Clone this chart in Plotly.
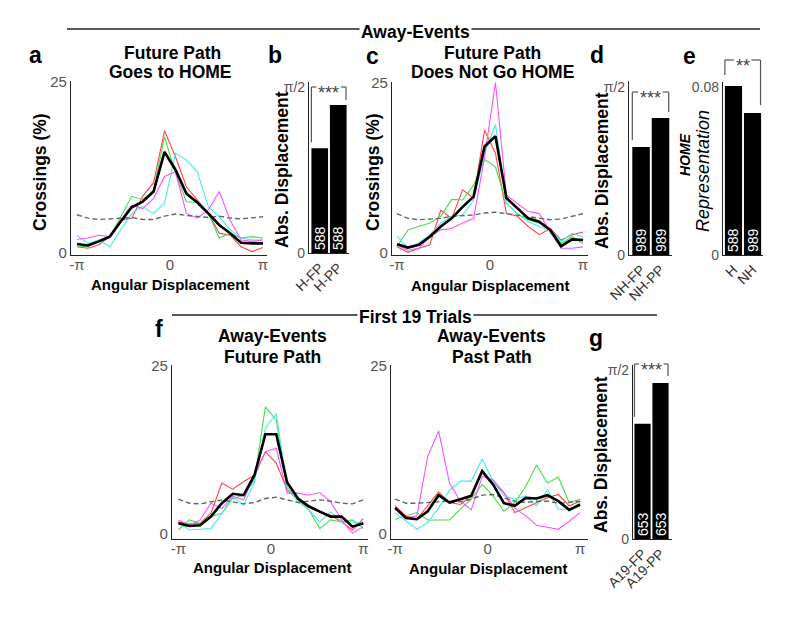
import numpy as np
import plotly.graph_objects as go

W, H = 800, 617
OX, OY = 8, 8          # page body margin of the browser
PI = np.pi
FONT = "Liberation Sans, Arial, sans-serif"

# ---------------- data ----------------
angles = np.linspace(-PI, PI, 18)

# panel a : Future path goes to HOME
a_red     = [0.8, 0.6, 1.1, 2.3, 4.7, 5.0, 8.2, 10.2, 17.8, 14.0, 9.6, 7.7, 5.7, 2.8, 2.5, 0.8, 0.1, 0.7]
a_green   = [0.9, 0.8, 1.8, 2.3, 5.2, 8.2, 7.7, 9.1, 16.9, 11.6, 7.4, 7.3, 5.7, 2.1, 2.8, 2.1, 2.3, 2.1]
a_cyan    = [2.5, 1.3, 1.8, 0.8, 3.3, 5.7, 6.7, 5.7, 7.2, 14.5, 13.5, 11.8, 6.7, 5.2, 3.3, 2.1, 1.8, 1.8]
a_magenta = [1.9, 2.1, 2.5, 2.3, 4.7, 6.9, 6.4, 7.9, 11.1, 11.8, 5.7, 5.0, 6.2, 8.9, 4.7, 1.8, 1.6, 1.8]
a_mean    = [1.2, 1.0, 1.6, 2.3, 4.5, 6.6, 7.4, 8.9, 14.7, 12.1, 8.6, 7.3, 5.7, 4.0, 2.8, 1.4, 1.3, 1.3]
a_chance  = [5.5, 5.0, 4.8, 4.9, 5.1, 5.1, 4.8, 4.8, 5.3, 5.6, 5.4, 5.2, 5.1, 5.3, 5.0, 4.9, 5.1, 5.2]

# panel c : Future path does not go HOME
c_red     = [0.8, 0.0, 0.6, 1.1, 6.2, 5.0, 9.2, 8.0, 18.0, 14.6, 5.7, 5.3, 3.8, 2.6, 3.5, 1.8, 2.6, 3.0]
c_green   = [0.8, 3.3, 3.8, 4.3, 5.3, 7.8, 7.7, 9.9, 13.7, 12.6, 7.2, 5.7, 4.8, 4.3, 3.3, 1.3, 2.3, 1.3]
c_cyan    = [2.4, 0.6, 1.4, 2.6, 4.3, 5.3, 5.5, 7.7, 14.6, 18.8, 7.2, 5.7, 4.5, 3.8, 3.3, 1.6, 2.8, 2.3]
c_magenta = [1.1, 0.3, 0.6, 2.3, 3.3, 3.5, 4.3, 5.0, 14.0, 25.0, 8.4, 7.2, 6.0, 5.7, 3.0, 0.6, 0.6, 0.8]
c_mean    = [1.2, 0.7, 1.1, 2.3, 3.8, 5.0, 6.7, 8.2, 15.6, 17.1, 8.0, 6.5, 5.0, 4.5, 3.3, 0.9, 1.9, 1.8]
c_chance  = [5.7, 5.0, 4.8, 4.9, 5.0, 5.3, 5.4, 5.5, 5.8, 5.9, 5.7, 5.5, 5.3, 5.0, 4.8, 4.9, 5.3, 5.7]

# panel f (left) : first 19 trials, future path
f1_red     = [1.7, 1.4, 1.5, 3.0, 7.5, 6.6, 7.7, 8.7, 12.2, 10.5, 6.5, 5.0, 4.2, 3.2, 2.7, 1.7, 0.5, 2.2]
f1_green   = [0.5, 2.0, 1.5, 2.5, 3.0, 5.2, 5.7, 8.0, 18.9, 16.9, 6.5, 5.0, 3.5, 0.7, 2.0, 1.7, 2.0, 0.7]
f1_cyan    = [1.7, 0.5, 0.6, 0.7, 3.0, 5.5, 4.2, 7.7, 15.7, 17.9, 7.0, 4.7, 3.5, 1.7, 3.2, 1.7, 1.7, 1.5]
f1_magenta = [2.0, 1.2, 2.0, 4.5, 3.7, 5.5, 5.0, 8.5, 12.2, 12.7, 6.0, 6.0, 5.7, 6.1, 4.7, 2.0, 0.0, 1.0]
f1_mean    = [1.5, 1.1, 1.2, 2.5, 4.5, 5.9, 5.7, 8.7, 14.8, 14.8, 7.6, 5.2, 4.0, 3.2, 2.5, 2.5, 1.0, 1.5]
f1_chance  = [5.1, 4.5, 4.4, 4.7, 5.0, 4.7, 4.4, 4.6, 5.2, 5.4, 5.0, 4.6, 4.8, 5.0, 4.8, 4.5, 4.4, 5.0]

# panel f (right) : first 19 trials, past path
f2_red     = [4.1, 2.6, 2.1, 4.1, 6.2, 4.6, 4.3, 5.6, 9.0, 7.6, 6.1, 3.1, 3.8, 4.5, 5.3, 5.8, 4.1, 4.8]
f2_green   = [2.1, 2.6, 3.1, 2.0, 2.0, 2.0, 3.6, 5.1, 7.3, 5.6, 3.3, 4.6, 7.0, 10.2, 7.5, 8.4, 4.6, 5.1]
f2_cyan    = [3.1, 1.8, 0.6, 1.6, 3.8, 6.4, 7.8, 7.8, 11.1, 7.8, 5.6, 5.1, 5.6, 4.1, 6.5, 3.6, 3.6, 4.0]
f2_magenta = [3.6, 2.3, 2.6, 11.5, 15.3, 7.5, 4.8, 3.5, 8.5, 8.0, 6.1, 3.8, 2.6, 1.2, 0.9, 0.6, 1.8, 3.1]
f2_mean    = [3.8, 2.3, 2.1, 3.3, 5.7, 4.6, 5.1, 5.6, 9.3, 7.3, 4.5, 4.1, 5.3, 5.2, 5.7, 4.8, 3.5, 4.3]
f2_chance  = [5.1, 4.5, 4.5, 4.6, 4.7, 4.8, 4.7, 5.1, 5.7, 5.8, 5.3, 4.8, 4.6, 4.8, 4.8, 4.5, 4.6, 4.8]

# bar panels
b_labels = ["H-FP", "H-PP"];      b_values = [0.99, 1.40];     b_n = ["588", "588"]
d_labels = ["NH-FP", "NH-PP"];    d_values = [1.01, 1.28];     d_n = ["989", "989"]
e_labels = ["H", "NH"];           e_values = [0.0805, 0.0676]; e_n = ["588", "989"]
g_labels = ["A19-FP", "A19-PP"];  g_values = [1.07, 1.45];     g_n = ["653", "653"]

# ---------------- styling ----------------
COL = dict(red="#ff4545", green="#45e045", cyan="#45eaea", magenta="#ff50ff")
AXCOL = "#222222"
TICKCOL = "#555555"
BRCOL = "#555555"


def fx(px):
    return (px - OX) / W


def fy(py):
    return 1 - (py - OY) / H


def xdom(p0, p1):
    return [fx(p0), fx(p1)]


def ydom(top, bot):
    return [fy(bot), fy(top)]


curve_panels = {
    "a":  dict(n=1, px=(71, 267),  py=(81, 255),  xr=(-3.344, 3.277), yr=(-0.4, 25.1),
               series=(a_red, a_green, a_cyan, a_magenta, a_chance, a_mean)),
    "c":  dict(n=3, px=(392, 588), py=(82, 255),  xr=(-3.31, 3.31),   yr=(-0.4, 25.1),
               series=(c_red, c_green, c_cyan, c_magenta, c_chance, c_mean)),
    "f1": dict(n=6, px=(172, 368), py=(365, 539), xr=(-3.356, 3.30),  yr=(-0.85, 25.15),
               series=(f1_red, f1_green, f1_cyan, f1_magenta, f1_chance, f1_mean)),
    "f2": dict(n=7, px=(391, 588), py=(365, 539), xr=(-3.28, 3.41),   yr=(-0.85, 25.15),
               series=(f2_red, f2_green, f2_cyan, f2_magenta, f2_chance, f2_mean)),
}

bar_panels = {
    "b": dict(n=2, px=(309, 349), py=(82, 253),  xr=(-0.58, 1.58), yr=(0, 1.618),
              labels=b_labels, values=b_values, counts=b_n, ticks=([0, PI / 2], ["0", "π/2"]),
              br_top=87, br_gap=(6, 5), stars="***"),
    "d": dict(n=4, px=(629, 672), py=(81, 255),  xr=(-0.62, 1.59), yr=(0, 1.627),
              labels=d_labels, values=d_values, counts=d_n, ticks=([0, PI / 2], ["0", "π/2"]),
              br_top=92, br_gap=(7, 6), stars="***"),
    "e": dict(n=5, px=(723, 763), py=(82, 255),  xr=(-0.55, 1.55), yr=(0, 0.0824),
              labels=e_labels, values=e_values, counts=e_n, ticks=([0, 0.08], ["0", "0.08"]),
              br_top=60, br_gap=(11, 8), stars="**"),
    "g": dict(n=8, px=(633, 672), py=(365, 539), xr=(-0.53, 1.64), yr=(0, 1.617),
              labels=g_labels, values=g_values, counts=g_n, ticks=([0, PI / 2], ["0", "π/2"]),
              br_top=364, br_gap=(7, 7), stars="***"),
}


def ax_names(n):
    return ("x" if n == 1 else f"x{n}"), ("y" if n == 1 else f"y{n}")


def xpx(v, p):
    (l, r), (r0, r1) = p["px"], p["xr"]
    return l + (v - r0) / (r1 - r0) * (r - l)


def ypx(v, p):
    (t, b), (r0, r1) = p["py"], p["yr"]
    return b - (v - r0) / (r1 - r0) * (b - t)


fig = go.Figure()
layout_axes = {}
common = dict(showline=True, linecolor=AXCOL, linewidth=1.2, showgrid=False, zeroline=False,
              ticks="", automargin=False, fixedrange=True)

for key, p in curve_panels.items():
    xa, ya = ax_names(p["n"])
    red, green, cyan, magenta, chance, mean = p["series"]
    for vals, c in ((red, COL["red"]), (green, COL["green"]), (cyan, COL["cyan"]), (magenta, COL["magenta"])):
        fig.add_trace(go.Scatter(x=angles, y=vals, mode="lines", line=dict(color=c, width=1.1),
                                 xaxis=xa, yaxis=ya, showlegend=False, hoverinfo="skip"))
    fig.add_trace(go.Scatter(x=angles, y=chance, mode="lines",
                             line=dict(color="#666666", width=1.4, dash="5px,3px"),
                             xaxis=xa, yaxis=ya, showlegend=False, hoverinfo="skip"))
    fig.add_trace(go.Scatter(x=angles, y=mean, mode="lines", line=dict(color="black", width=2.6),
                             xaxis=xa, yaxis=ya, showlegend=False, hoverinfo="skip"))
    xk = "xaxis" if p["n"] == 1 else f"xaxis{p['n']}"
    yk = "yaxis" if p["n"] == 1 else f"yaxis{p['n']}"
    layout_axes[xk] = dict(domain=xdom(*p["px"]), range=list(p["xr"]), anchor=ya,
                           tickvals=[-PI, 0, PI], ticktext=["-π", "0", "π"], ticklabelstandoff=-4,
                           tickfont=dict(size=15, color=TICKCOL, family=FONT), **common)
    layout_axes[yk] = dict(domain=ydom(*p["py"]), range=list(p["yr"]), anchor=xa,
                           tickvals=[0, 25], ticktext=["0", "25"],
                           tickfont=dict(size=15, color=TICKCOL, family=FONT), **common)

shapes = []
annotations = []


def ann(text, x, y, size, angle=0, color="black", **kw):
    annotations.append(dict(text=text, x=fx(x), y=fy(y), xref="paper", yref="paper",
                            showarrow=False, xanchor="center", yanchor="middle", textangle=angle,
                            font=dict(size=size, color=color, family=FONT), **kw))


def pline(x0, y0, x1, y1, color="#333333", width=1.3):
    shapes.append(dict(type="line", xref="paper", yref="paper", x0=fx(x0), y0=fy(y0),
                       x1=fx(x1), y1=fy(y1), line=dict(color=color, width=width)))


for key, p in bar_panels.items():
    xa, ya = ax_names(p["n"])
    fig.add_trace(go.Bar(x=[0, 1], y=p["values"], width=0.9, marker=dict(color="black", line=dict(width=0)),
                         text=p["counts"], textposition="inside", insidetextanchor="start", textangle=-90,
                         textfont=dict(size=14, color="white", family=FONT), constraintext="none",
                         xaxis=xa, yaxis=ya, showlegend=False, hoverinfo="skip"))
    xk, yk = f"xaxis{p['n']}", f"yaxis{p['n']}"
    layout_axes[xk] = dict(domain=xdom(*p["px"]), range=list(p["xr"]), anchor=ya,
                           tickvals=[0, 1], ticktext=p["labels"], tickangle=-45,
                           tickfont=dict(size=14, color="#333333", family=FONT), **common)
    layout_axes[yk] = dict(domain=ydom(*p["py"]), range=list(p["yr"]), anchor=xa,
                           tickvals=p["ticks"][0], ticktext=p["ticks"][1],
                           tickfont=dict(size=14, color=TICKCOL, family=FONT), **common)
    # significance bracket, derived from bar heights
    xl, xr_ = xpx(-0.45, p), xpx(1.42, p)
    top = p["br_top"]
    yl = ypx(p["values"][0], p) - p["br_gap"][0]
    yr_ = ypx(p["values"][1], p) - p["br_gap"][1]
    xc = (xl + xr_) / 2
    half = len(p["stars"]) * 3.6 + 1.5
    pline(xl, yl, xl, top, color=BRCOL, width=1.2)
    pline(xl, top, xc - half, top, color=BRCOL, width=1.2)
    pline(xc + half, top, xr_, top, color=BRCOL, width=1.2)
    pline(xr_, top, xr_, yr_, color=BRCOL, width=1.2)
    ann(p["stars"], xc, top + 6, 18, color="#444444")

# header lines
pline(67, 29, 760, 29, color="#222222", width=1.3)
ann("<b>Away-Events</b>", 415, 32, 17.5, bgcolor="white", borderpad=1)
pline(172, 315, 657, 315, color="#222222", width=1.3)
ann("<b>First 19 Trials</b>", 415, 317, 17.5, bgcolor="white", borderpad=1)

# panel letters
for letter, x, y in (("a", 35, 55), ("b", 275, 55), ("c", 372, 56), ("d", 597, 55),
                     ("e", 689, 56), ("f", 159, 329), ("g", 596, 338)):
    ann(f"<b>{letter}</b>", x, y, 23)

# panel titles
ann("<b>Future Path</b>", 172, 53, 17.5)
ann("<b>Goes to HOME</b>", 170, 72, 17.5)
ann("<b>Future Path</b>", 493, 53, 17.5)
ann("<b>Does Not Go HOME</b>", 492, 72, 17.5)
ann("<b>Away-Events</b>", 272, 336, 17.5)
ann("<b>Future Path</b>", 272, 357, 17.5)
ann("<b>Away-Events</b>", 491, 336, 17.5)
ann("<b>Past Path</b>", 492, 357, 17.5)

# axis titles
ann("<b>Crossings (%)</b>", 40, 172, 17.5, angle=-90)
ann("<b>Crossings (%)</b>", 373, 172, 17.5, angle=-90)
for x, y in ((170, 284), (490, 285), (272, 567), (488, 568)):
    ann("<b>Angular Displacement</b>", x, y, 15)
ann("<b>Abs. Displacement</b>", 282, 170, 17.5, angle=-90)
ann("<b>Abs. Displacement</b>", 602, 171, 17.5, angle=-90)
ann("<b>Abs. Displacement</b>", 601, 455, 17.5, angle=-90)
ann("<b><i>HOME</i></b>", 685, 155, 14, angle=-90)
ann("<i>Representation</i>", 703, 171, 18, angle=-90)

fig.update_layout(width=W, height=H, margin=dict(l=0, r=0, t=0, b=0, autoexpand=False),
                  paper_bgcolor="white", plot_bgcolor="white",
                  font=dict(family=FONT), shapes=shapes, annotations=annotations,
                  barmode="group", bargap=0.05, **layout_axes)

fig.write_html("out.html")
